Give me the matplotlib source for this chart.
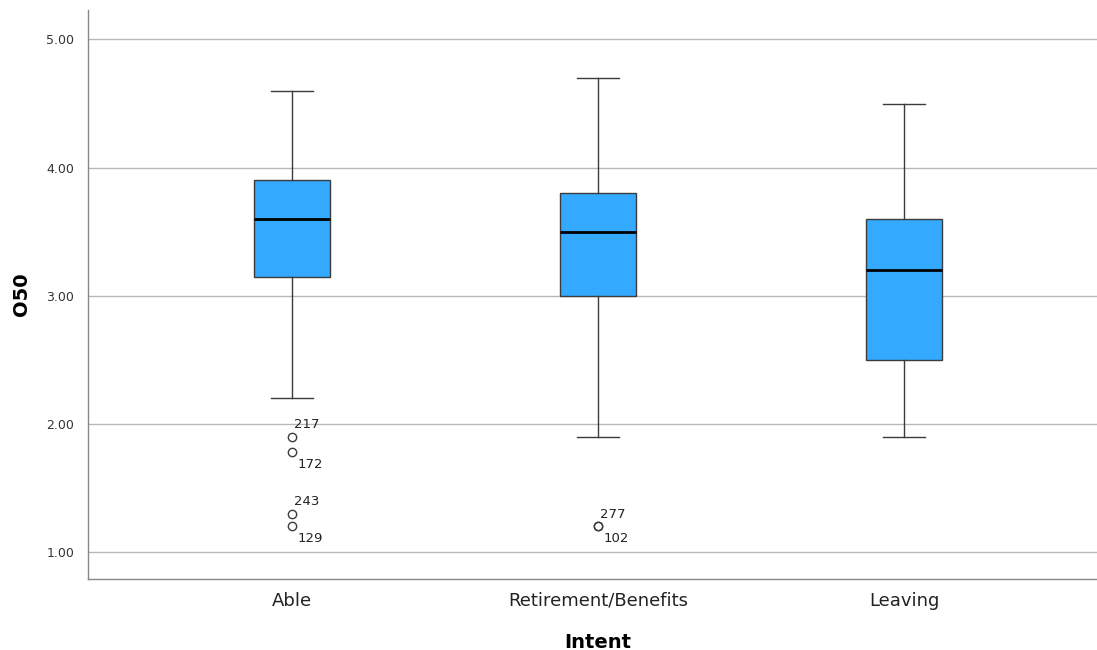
import matplotlib.pyplot as plt

# box statistics
categories = ["Able", "Retirement/Benefits", "Leaving"]
whisker_low = [2.20, 1.90, 1.90]
q1 = [3.15, 3.00, 2.50]
medians = [3.60, 3.50, 3.20]
q3 = [3.90, 3.80, 3.60]
whisker_high = [4.60, 4.70, 4.50]

# outliers per category: (value, case id, label above?)
outliers = [
    [(1.90, "217", True), (1.78, "172", False), (1.30, "243", True), (1.20, "129", False)],
    [(1.20, "277", True), (1.20, "102", False)],
    [],
]

yticks = [1.0, 2.0, 3.0, 4.0, 5.0]

box_color = "#33aaff"
edge_color = "#3c3c3c"

fig = plt.figure(figsize=(10.97, 6.5), dpi=100)
ax = fig.add_axes([88 / 1097, 1 - 579 / 650, (1108 - 88) / 1097, (579 - 10) / 650])

stats = []
for i, name in enumerate(categories):
    stats.append({
        "label": name,
        "whislo": whisker_low[i],
        "q1": q1[i],
        "med": medians[i],
        "q3": q3[i],
        "whishi": whisker_high[i],
        "fliers": [v for v, _, _ in outliers[i]],
    })

positions = list(range(len(categories)))
ax.bxp(
    stats,
    positions=positions,
    widths=0.25,
    capwidths=0.135,
    patch_artist=True,
    boxprops=dict(facecolor=box_color, edgecolor=edge_color, linewidth=1.0),
    medianprops=dict(color="black", linewidth=2.0),
    whiskerprops=dict(color=edge_color, linewidth=1.0),
    capprops=dict(color=edge_color, linewidth=1.0),
    flierprops=dict(marker="o", markersize=6, markerfacecolor="none",
                    markeredgecolor=edge_color, markeredgewidth=1.0),
    zorder=3,
)

# case labels next to outliers
for i, pts in enumerate(outliers):
    for val, case_id, above in pts:
        if above:
            ax.annotate(case_id, (positions[i], val), xytext=(1.5, 4),
                        textcoords="offset points", fontsize=9.5,
                        ha="left", va="bottom", color="#222222", zorder=4)
        else:
            ax.annotate(case_id, (positions[i], val), xytext=(4, -4),
                        textcoords="offset points", fontsize=9.5,
                        ha="left", va="top", color="#222222", zorder=4)

ax.set_xlim(-0.667, 2.667)
ax.set_ylim(0.79, 5.23)
ax.set_yticks(yticks)
ax.set_yticklabels([f"{t:.2f}" for t in yticks], fontsize=9, color="#333333")
ax.set_xticks(positions)
ax.set_xticklabels(categories, fontsize=13, color="#222222")
ax.tick_params(axis="both", length=0, pad=10)
ax.tick_params(axis="x", pad=9)

ax.grid(axis="y", color="#b8b8b8", linewidth=1.0, zorder=0)
ax.set_axisbelow(True)
for side in ["top", "right"]:
    ax.spines[side].set_visible(False)
for side in ["left", "bottom"]:
    ax.spines[side].set_color("#888888")
    ax.spines[side].set_linewidth(1.0)

ax.set_xlabel("Intent", fontsize=14, fontweight="bold", labelpad=17)
ax.set_ylabel("O50", fontsize=14, fontweight="bold", labelpad=11)

fig.savefig("out.png", dpi=100)
